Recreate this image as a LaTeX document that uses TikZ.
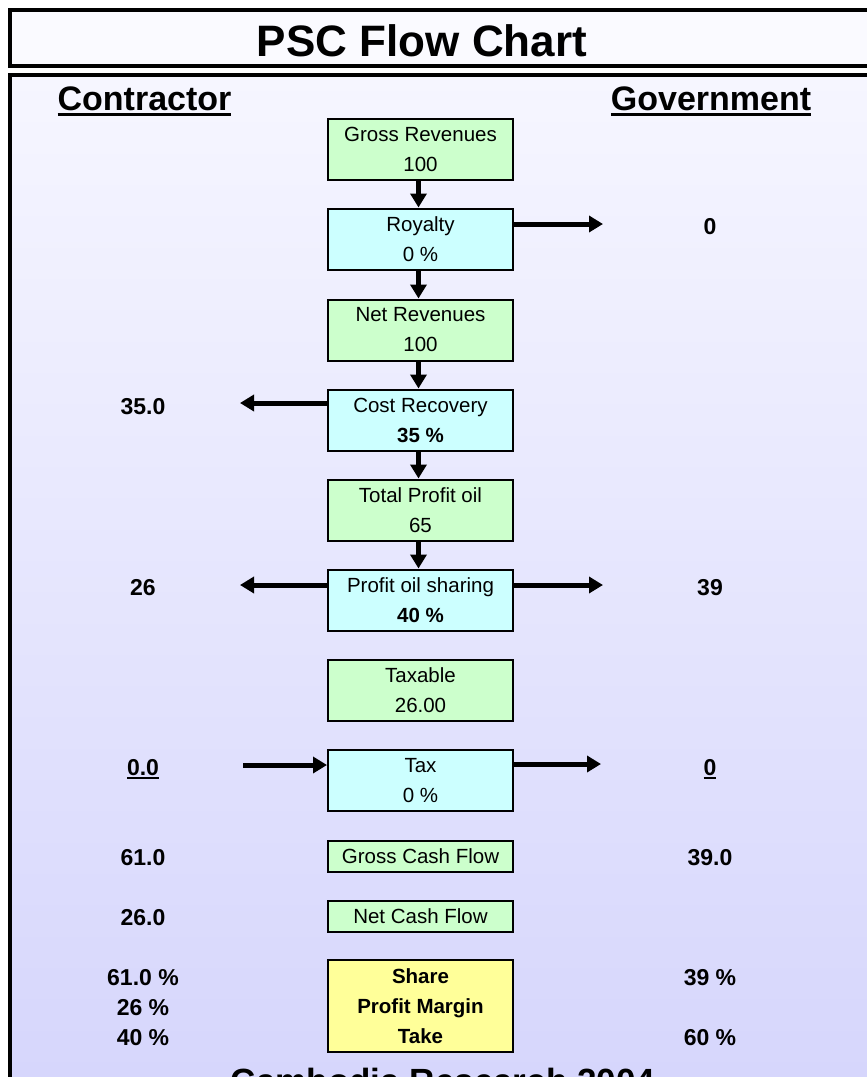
\documentclass[tikz,border=0pt]{standalone}
\usepackage{fontspec}
\setmainfont{Liberation Sans}
\usepackage{tikz}
\usetikzlibrary{arrows.meta}
\definecolor{boxgreen}{RGB}{204,255,204}
\definecolor{boxcyan}{RGB}{204,255,255}
\definecolor{boxyellow}{RGB}{255,255,153}
\definecolor{paneltop}{RGB}{246,246,255}
\definecolor{panelbot}{RGB}{214,214,252}
\definecolor{titlefill}{RGB}{250,250,255}
\newcommand\fs[2]{\fontsize{#1pt}{#2pt}\selectfont}
\newcommand\undl[3]{\setbox0=\hbox{#3}\rlap{\rule[-#1]{\wd0}{#2}}\box0}
\tikzset{
  flowbox/.style={draw, line width=2pt, minimum width=185pt, minimum height=61pt,
    inner sep=0pt, align=center, font=\fs{20.5}{30}},
  greenbox/.style={flowbox, fill=boxgreen},
  cyanbox/.style={flowbox, fill=boxcyan},
  flow/.style={line width=5pt, -{Triangle[length=14pt,width=16pt]}},
  amount/.style={anchor=base, font=\bfseries\fs{23}{26}},
}
\begin{document}
\begin{tikzpicture}[x=1pt,y=-1pt]
\useasboundingbox (0,0) rectangle (867,1077);
\fill[white] (0,0) rectangle (867,1077);
% title bar and panel
\draw[line width=3.5pt, fill=titlefill] (10,10) rectangle (900,66);
\shade[top color=paneltop, bottom color=panelbot] (10,75) rectangle (880,1077);
\draw[line width=3.5pt] (10,1100) -- (10,75) -- (900,75);
\node[anchor=base, font=\bfseries\fs{44}{50}] (title) at (422,56.5) {PSC Flow Chart};
\node[anchor=base, font=\bfseries\fs{34}{40}] (contractor) at (144.5,110) {\undl{6pt}{3.5pt}{Contractor}};
\node[anchor=base, font=\bfseries\fs{34}{40}] (government) at (711,110) {\undl{6pt}{3.5pt}{Government}};
% flow boxes
\node[greenbox] (gross) at (420.5,149.5) {Gross Revenues\\100};
\node[cyanbox] (roy) at (420.5,239) {Royalty\\0 \%};
\node[greenbox] (net) at (420.5,330) {Net Revenues\\100};
\node[cyanbox] (cost) at (420.5,420) {Cost Recovery\\\textbf{35 \%}};
\node[greenbox] (total) at (420.5,510) {Total Profit oil\\65};
\node[cyanbox] (share) at (420.5,600) {Profit oil sharing\\\textbf{40 \%}};
\node[greenbox] (taxable) at (420.5,690) {Taxable\\26.00};
\node[cyanbox] (tax) at (420.5,780.5) {Tax\\0 \%};
\node[greenbox, minimum height=31pt] (gcf) at (420.5,856) {Gross Cash Flow};
\node[greenbox, minimum height=31pt] (ncf) at (420.5,916) {Net Cash Flow};
\node[flowbox, fill=boxyellow, minimum height=92pt, font=\bfseries\fs{20.5}{30}] (take) at (420.5,1006) {Share\\Profit Margin\\Take};
% arrows
\foreach \a/\b in {gross/roy, roy/net, net/cost, cost/total, total/share}
\draw[flow] ([xshift=-2pt]\a.south) -- ([xshift=-2pt]\b.north);
\coordinate (govroy) at (603,224);
\coordinate (concost) at (240,403);
\coordinate (conshare) at (240,585);
\coordinate (govshare) at (603,585);
\coordinate (contax) at (243,765);
\coordinate (govtax) at (601,764);
\draw[flow] (roy.east |- govroy) -- (govroy);
\draw[flow] (cost.west |- concost) -- (concost);
\draw[flow] (share.west |- conshare) -- (conshare);
\draw[flow] (share.east |- govshare) -- (govshare);
\draw[flow] (contax) -- (tax.west |- contax);
\draw[flow] (tax.east |- govtax) -- (govtax);
% amounts
\foreach \n/\y/\t in {concostv/414/35.0, conshv/595/26, congcf/865/61.0, conncf/925/26.0,
  conpct/985/61.0 \%, conmargin/1015/26 \%, contake/1045/40 \%}
\node[amount] (\n) at (143,\y) {\t};
\foreach \n/\y/\t in {govroyv/234/0, govshv/595/39, govgcf/865/39.0, govpct/985/39 \%, govtake/1045/60 \%}
\node[amount] (\n) at (710,\y) {\t};
\node[amount] (contaxv) at (143,775) {\undl{4pt}{2.5pt}{0.0}};
\node[amount] (govtaxv) at (710,775) {\undl{4pt}{2.5pt}{0}};
\node[anchor=base, font=\bfseries\fs{35}{40}] (footer) at (443,1093) {Cambodia Research 2004};
\end{tikzpicture}
\end{document}
